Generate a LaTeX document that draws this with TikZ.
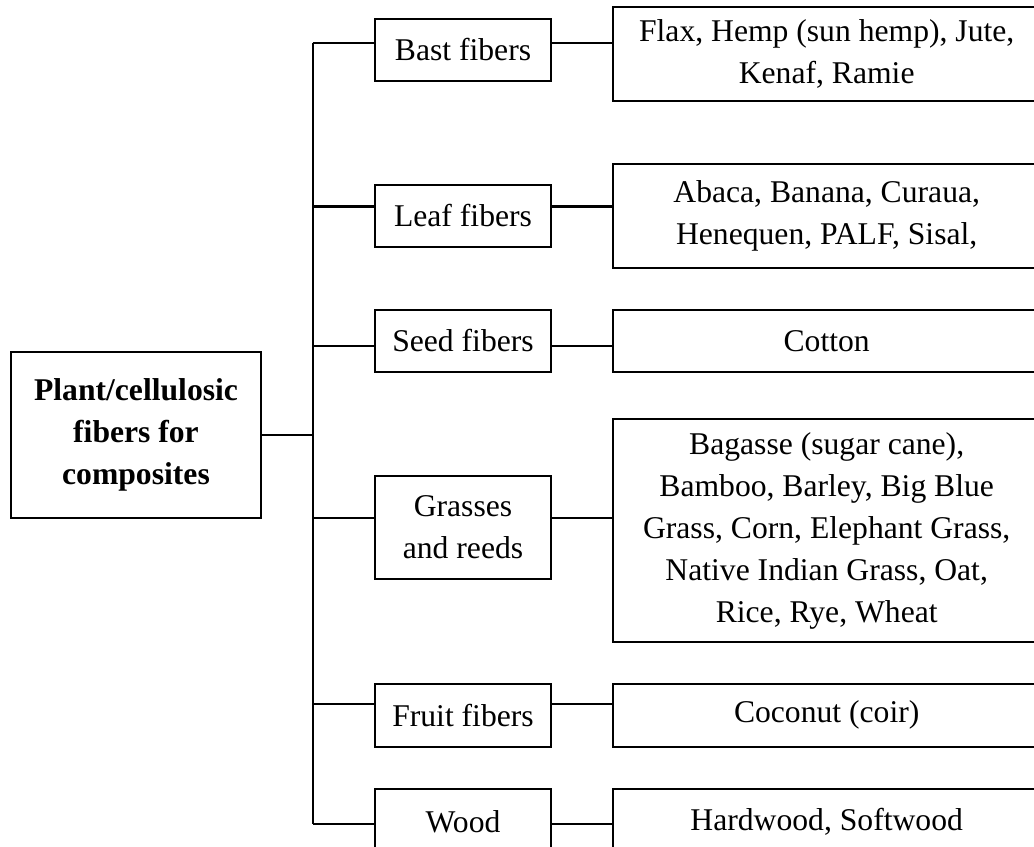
\documentclass[tikz,border=0pt]{standalone}
\usepackage{fontspec}
\setmainfont{Liberation Serif}
\begin{document}
\begin{tikzpicture}[x=0.025cm,y=-0.025cm,line width=1.5pt,
  box/.style={draw, inner sep=0pt, outer sep=0pt, align=center,
    font=\fontsize{22.5}{29.9}\selectfont},
  kind/.style={box, minimum width=4.415cm},
  list/.style={box, minimum width=10.675cm}]
\useasboundingbox (0,0) rectangle (1034,847);
\node[box, minimum width=6.25cm, minimum height=4.15cm,
  font=\fontsize{22.5}{29.9}\selectfont\bfseries] (root) at (136,434.7)
  {Plant/cellulosic\\fibers for\\composites};
\node[kind, minimum height=1.535cm] (bast) at (463,50) {Bast fibers};
\node[kind, minimum height=1.56cm] (leaf) at (463,216) {Leaf fibers};
\node[kind, minimum height=1.56cm] (seed) at (463,341) {Seed fibers};
\node[kind, minimum height=2.575cm] (grass) at (463,527.5) {Grasses\\and reeds};
\node[kind, minimum height=1.57cm] (fruit) at (463,715.3) {Fruit fibers};
\node[kind, minimum height=1.65cm] (wood) at (463,822) {Wood};
\node[list, minimum height=2.35cm] (flax) at (826.7,54) {Flax, Hemp (sun hemp), Jute,\\Kenaf, Ramie};
\node[list, minimum height=2.61cm] (abaca) at (826.7,216) {Abaca, Banana, Curaua,\\Henequen, PALF, Sisal,};
\node[list, minimum height=1.56cm] (cotton) at (826.7,341) {Cotton};
\node[list, minimum height=5.575cm] (bagasse) at (826.7,530.8) {Bagasse (sugar cane),\\Bamboo, Barley, Big Blue\\Grass, Corn, Elephant Grass,\\Native Indian Grass, Oat,\\Rice, Rye, Wheat};
\node[list, minimum height=1.57cm] (coconut) at (826.7,715.3) {Coconut (coir)};
\node[list, minimum height=1.65cm] (hard) at (826.7,822) {Hardwood, Softwood};
\coordinate (top) at (312.7,43.3);
\coordinate (bottom) at (312.7,824);
\path[draw] (top) -- (bottom);
\path[draw] (root.east) -- (root.east -| top);
\foreach \kind/\list/\y in {bast/flax/43.3, leaf/abaca/206.5, seed/cotton/346,
    grass/bagasse/517.7, fruit/coconut/704, wood/hard/824} {
  \coordinate (c) at (312.7,\y);
  \path[draw] (c) -- (c -| \kind.west);
  \path[draw] (c -| \kind.east) -- (c -| \list.west);
}
\end{tikzpicture}
\end{document}
